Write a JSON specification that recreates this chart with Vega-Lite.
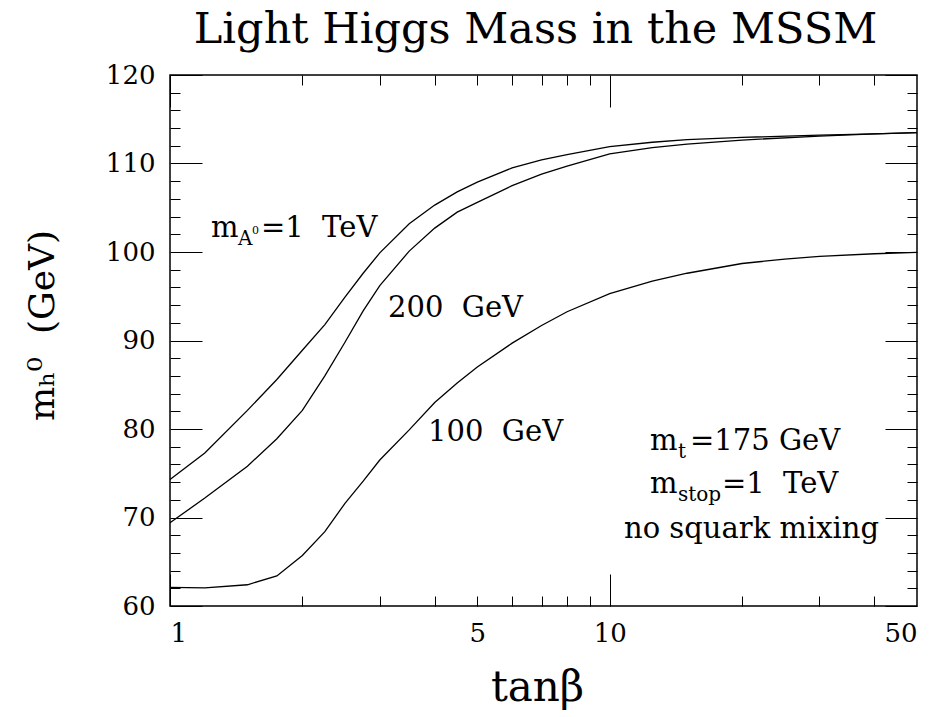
{
  "$schema": "https://vega.github.io/schema/vega-lite/v6.json",
  "width": 747,
  "height": 531,
  "autosize": {"type": "none"},
  "padding": {"left": 170, "top": 75, "right": 20, "bottom": 111},
  "background": "white",
  "title": {
    "text": "Light Higgs Mass in the MSSM",
    "font": "DejaVu Serif",
    "fontSize": 43,
    "fontWeight": "normal",
    "color": "black",
    "anchor": "middle",
    "frame": "group",
    "baseline": "bottom",
    "offset": 22,
    "dx": -8,
    "dy": 55
  },
  "datasets": {
    "curves": [
      {"tb": 1, "m": 74.3, "s": "1 TeV"},
      {"tb": 1.2, "m": 77.3, "s": "1 TeV"},
      {"tb": 1.5, "m": 82.1, "s": "1 TeV"},
      {"tb": 1.75, "m": 85.6, "s": "1 TeV"},
      {"tb": 2, "m": 88.9, "s": "1 TeV"},
      {"tb": 2.25, "m": 91.8, "s": "1 TeV"},
      {"tb": 2.5, "m": 94.9, "s": "1 TeV"},
      {"tb": 2.75, "m": 97.6, "s": "1 TeV"},
      {"tb": 3, "m": 99.9, "s": "1 TeV"},
      {"tb": 3.5, "m": 103.2, "s": "1 TeV"},
      {"tb": 4, "m": 105.3, "s": "1 TeV"},
      {"tb": 4.5, "m": 106.8, "s": "1 TeV"},
      {"tb": 5, "m": 107.9, "s": "1 TeV"},
      {"tb": 6, "m": 109.5, "s": "1 TeV"},
      {"tb": 7, "m": 110.4, "s": "1 TeV"},
      {"tb": 8, "m": 111.0, "s": "1 TeV"},
      {"tb": 10, "m": 111.9, "s": "1 TeV"},
      {"tb": 12.5, "m": 112.4, "s": "1 TeV"},
      {"tb": 15, "m": 112.7, "s": "1 TeV"},
      {"tb": 20, "m": 112.95, "s": "1 TeV"},
      {"tb": 30, "m": 113.2, "s": "1 TeV"},
      {"tb": 40, "m": 113.35, "s": "1 TeV"},
      {"tb": 50, "m": 113.5, "s": "1 TeV"},
      {"tb": 1, "m": 69.4, "s": "200 GeV"},
      {"tb": 1.2, "m": 72.2, "s": "200 GeV"},
      {"tb": 1.5, "m": 75.8, "s": "200 GeV"},
      {"tb": 1.75, "m": 78.9, "s": "200 GeV"},
      {"tb": 2, "m": 82.1, "s": "200 GeV"},
      {"tb": 2.25, "m": 86.0, "s": "200 GeV"},
      {"tb": 2.5, "m": 89.8, "s": "200 GeV"},
      {"tb": 2.75, "m": 93.35, "s": "200 GeV"},
      {"tb": 3, "m": 96.2, "s": "200 GeV"},
      {"tb": 3.5, "m": 100.1, "s": "200 GeV"},
      {"tb": 4, "m": 102.7, "s": "200 GeV"},
      {"tb": 4.5, "m": 104.5, "s": "200 GeV"},
      {"tb": 5, "m": 105.6, "s": "200 GeV"},
      {"tb": 6, "m": 107.5, "s": "200 GeV"},
      {"tb": 7, "m": 108.8, "s": "200 GeV"},
      {"tb": 8, "m": 109.7, "s": "200 GeV"},
      {"tb": 10, "m": 111.1, "s": "200 GeV"},
      {"tb": 12.5, "m": 111.8, "s": "200 GeV"},
      {"tb": 15, "m": 112.2, "s": "200 GeV"},
      {"tb": 20, "m": 112.65, "s": "200 GeV"},
      {"tb": 30, "m": 113.1, "s": "200 GeV"},
      {"tb": 40, "m": 113.35, "s": "200 GeV"},
      {"tb": 50, "m": 113.5, "s": "200 GeV"},
      {"tb": 1, "m": 62.1, "s": "100 GeV"},
      {"tb": 1.2, "m": 62.05, "s": "100 GeV"},
      {"tb": 1.5, "m": 62.4, "s": "100 GeV"},
      {"tb": 1.75, "m": 63.4, "s": "100 GeV"},
      {"tb": 2, "m": 65.7, "s": "100 GeV"},
      {"tb": 2.25, "m": 68.4, "s": "100 GeV"},
      {"tb": 2.5, "m": 71.6, "s": "100 GeV"},
      {"tb": 2.75, "m": 74.1, "s": "100 GeV"},
      {"tb": 3, "m": 76.5, "s": "100 GeV"},
      {"tb": 3.5, "m": 79.9, "s": "100 GeV"},
      {"tb": 4, "m": 83.0, "s": "100 GeV"},
      {"tb": 4.5, "m": 85.2, "s": "100 GeV"},
      {"tb": 5, "m": 87.0, "s": "100 GeV"},
      {"tb": 6, "m": 89.7, "s": "100 GeV"},
      {"tb": 7, "m": 91.7, "s": "100 GeV"},
      {"tb": 8, "m": 93.25, "s": "100 GeV"},
      {"tb": 10, "m": 95.3, "s": "100 GeV"},
      {"tb": 12.5, "m": 96.7, "s": "100 GeV"},
      {"tb": 15, "m": 97.6, "s": "100 GeV"},
      {"tb": 20, "m": 98.7, "s": "100 GeV"},
      {"tb": 25, "m": 99.2, "s": "100 GeV"},
      {"tb": 30, "m": 99.5, "s": "100 GeV"},
      {"tb": 40, "m": 99.8, "s": "100 GeV"},
      {"tb": 50, "m": 99.95, "s": "100 GeV"}
    ],
    "labels": [
      {"tb": 1.24, "m": 101.69, "text": "m"},
      {"tb": 1.61, "m": 101.69, "text": "=1\u00a0\u00a0TeV"},
      {"tb": 3.132, "m": 92.66, "text": "200\u00a0\u00a0GeV"},
      {"tb": 3.863, "m": 78.64, "text": "100\u00a0\u00a0GeV"},
      {"tb": 12.35, "m": 77.63, "text": "m"},
      {"tb": 15.23, "m": 77.63, "text": "=175\u00a0GeV"},
      {"tb": 12.35, "m": 72.77, "text": "m"},
      {"tb": 18.0, "m": 72.77, "text": "=1\u00a0\u00a0TeV"},
      {"tb": 10.78, "m": 67.68, "text": "no\u00a0squark\u00a0mixing"}
    ],
    "subs": [
      {"tb": 1.428, "m": 100.79, "text": "A"},
      {"tb": 14.3, "m": 76.72, "text": "t"},
      {"tb": 14.3, "m": 71.86, "text": "stop"}
    ],
    "sups": [
      {"tb": 1.537, "m": 102.0, "text": "0"}
    ]
  },
  "data": {"name": "curves"},
  "layer": [
    {
      "mark": {"type": "line", "color": "black", "strokeWidth": 1.3, "interpolate": "linear"},
      "encoding": {
        "x": {
          "field": "tb", "type": "quantitative",
          "scale": {"type": "log", "domain": [1, 50], "nice": false},
          "axis": {
            "orient": "bottom", "values": [1, 5, 10, 50], "ticks": false,
            "labelPadding": 14, "labelBaseline": "top", "labelFontSize": 26,
            "title": "tanβ", "titleFontSize": 42, "titleX": 367, "titleY": 94,
            "titleBaseline": "alphabetic", "titleAlign": "center", "titleAnchor": null
          }
        },
        "y": {
          "field": "m", "type": "quantitative",
          "scale": {"domain": [60, 120], "nice": false, "zero": false},
          "axis": {
            "orient": "left", "values": [60, 70, 80, 90, 100, 110, 120], "ticks": false,
            "labelPadding": 15, "labelFontSize": 26,
            "title": "mₕ⁰\u00a0\u00a0(GeV)", "titleFontSize": 36, "titleX": -128, "titleY": 250,
            "titleAngle": -90, "titleBaseline": "middle", "titleAlign": "center", "titleAnchor": null
          }
        },
        "detail": {"field": "s"}
      }
    },
    {
      "mark": {"type": "line", "opacity": 0},
      "encoding": {
        "x": {"field": "tb", "type": "quantitative",
          "axis": {"orient": "bottom", "values": [1, 10], "labels": false, "tickSize": 32, "offset": -32, "title": null}},
        "y": {"field": "m", "type": "quantitative",
          "axis": {"orient": "left", "values": [60, 70, 80, 90, 100, 110, 120], "labels": false, "tickSize": 32, "offset": -32, "title": null}},
        "detail": {"field": "s"}
      }
    },
    {
      "mark": {"type": "line", "opacity": 0},
      "encoding": {
        "x": {"field": "tb", "type": "quantitative",
          "axis": {"orient": "bottom", "values": [2, 3, 4, 5, 6, 7, 8, 9, 20, 30, 40], "labels": false, "tickSize": 10, "offset": -10, "title": null}},
        "y": {"field": "m", "type": "quantitative",
          "axis": {"orient": "left", "values": [62, 64, 66, 68, 72, 74, 76, 78, 82, 84, 86, 88, 92, 94, 96, 98, 102, 104, 106, 108, 112, 114, 116, 118], "labels": false, "tickSize": 10, "offset": -10, "title": null}},
        "detail": {"field": "s"}
      }
    },
    {
      "mark": {"type": "line", "opacity": 0},
      "encoding": {
        "x": {"field": "tb", "type": "quantitative",
          "axis": {"orient": "top", "values": [1, 10], "labels": false, "tickSize": 32, "offset": -32, "title": null}},
        "y": {"field": "m", "type": "quantitative",
          "axis": {"orient": "right", "values": [60, 70, 80, 90, 100, 110, 120], "labels": false, "tickSize": 32, "offset": -32, "title": null}},
        "detail": {"field": "s"}
      }
    },
    {
      "mark": {"type": "line", "opacity": 0},
      "encoding": {
        "x": {"field": "tb", "type": "quantitative",
          "axis": {"orient": "top", "values": [2, 3, 4, 5, 6, 7, 8, 9, 20, 30, 40], "labels": false, "tickSize": 10, "offset": -10, "title": null}},
        "y": {"field": "m", "type": "quantitative",
          "axis": {"orient": "right", "values": [62, 64, 66, 68, 72, 74, 76, 78, 82, 84, 86, 88, 92, 94, 96, 98, 102, 104, 106, 108, 112, 114, 116, 118], "labels": false, "tickSize": 10, "offset": -10, "title": null}},
        "detail": {"field": "s"}
      }
    },
    {
      "data": {"name": "labels"},
      "mark": {"type": "text", "align": "left", "baseline": "alphabetic", "fontSize": 29, "font": "DejaVu Serif", "color": "black"},
      "encoding": {
        "x": {"field": "tb", "type": "quantitative", "axis": null},
        "y": {"field": "m", "type": "quantitative", "axis": null},
        "text": {"field": "text"}
      }
    },
    {
      "data": {"name": "subs"},
      "mark": {"type": "text", "align": "left", "baseline": "alphabetic", "fontSize": 20, "font": "DejaVu Serif", "color": "black"},
      "encoding": {
        "x": {"field": "tb", "type": "quantitative", "axis": null},
        "y": {"field": "m", "type": "quantitative", "axis": null},
        "text": {"field": "text"}
      }
    },
    {
      "data": {"name": "sups"},
      "mark": {"type": "text", "align": "left", "baseline": "alphabetic", "fontSize": 11, "font": "DejaVu Serif", "color": "black"},
      "encoding": {
        "x": {"field": "tb", "type": "quantitative", "axis": null},
        "y": {"field": "m", "type": "quantitative", "axis": null},
        "text": {"field": "text"}
      }
    }
  ],
  "resolve": {"axis": {"x": "independent", "y": "independent"}},
  "config": {
    "view": {"stroke": "black", "strokeWidth": 1.5},
    "axis": {
      "grid": false,
      "domain": false,
      "labelFont": "DejaVu Serif",
      "titleFont": "DejaVu Serif",
      "labelColor": "black",
      "titleColor": "black",
      "titleFontWeight": "normal",
      "tickColor": "black",
      "tickWidth": 1
    }
  }
}
